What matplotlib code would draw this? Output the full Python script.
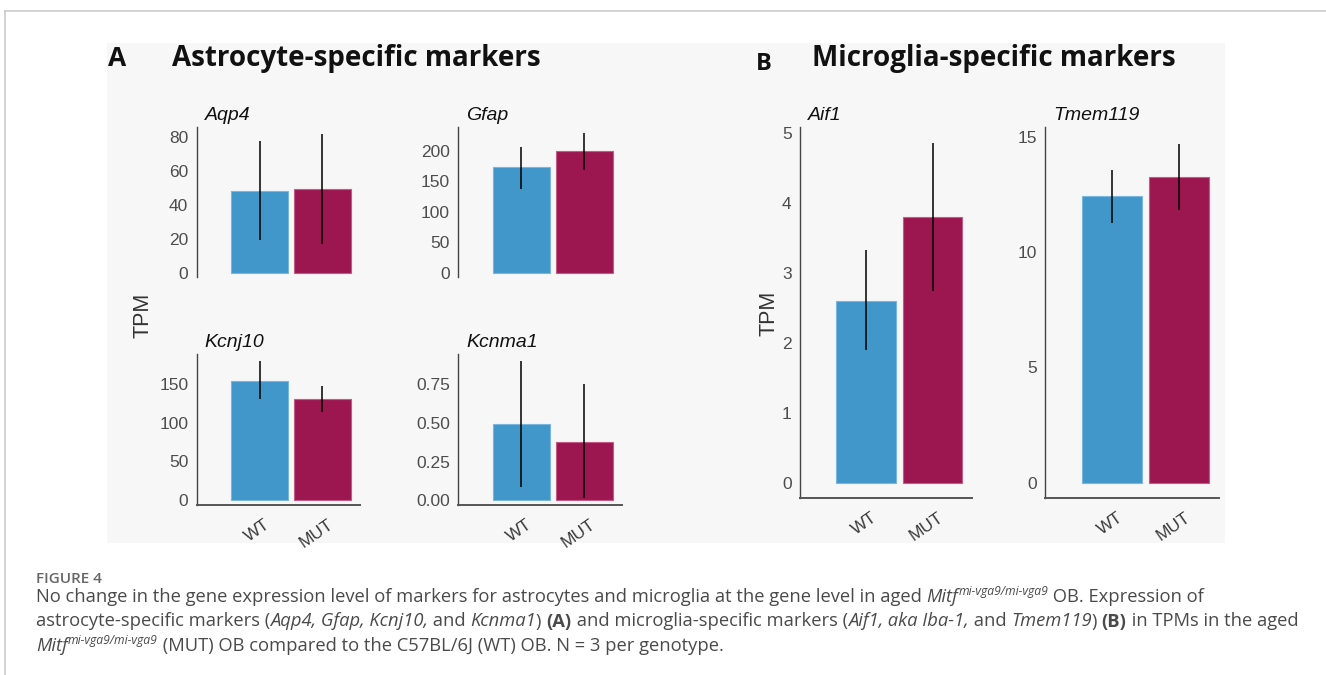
import numpy as np
import matplotlib
matplotlib.use('Agg')
import matplotlib.pyplot as plt
from matplotlib.patches import Rectangle
from matplotlib.lines import Line2D
import matplotlib.transforms as mtrans

plt.rcParams['font.family'] = ['Liberation Sans', 'DejaVu Sans']

# data (mean TPM and error-bar ends)
genes = ['Aqp4', 'Gfap', 'Kcnj10', 'Kcnma1', 'Aif1', 'Tmem119']
groups = ['WT', 'MUT']
wt_mean = [48.2, 172.8, 154.7, 0.493, 2.60, 12.44]
mut_mean = [49.2, 198.4, 131.4, 0.378, 3.80, 13.27]
wt_lo = [19.0, 137.0, 131.0, 0.086, 1.89, 11.27]
wt_hi = [77.5, 205.0, 180.0, 0.900, 3.32, 13.55]
mut_lo = [16.7, 168.4, 114.5, 0.011, 2.74, 11.82]
mut_hi = [81.6, 228.5, 148.0, 0.752, 4.85, 14.69]
yticks = [[0, 20, 40, 60, 80], [0, 50, 100, 150, 200], [0, 50, 100, 150],
          [0, 0.25, 0.5, 0.75], [0, 1, 2, 3, 4, 5], [0, 5, 10, 15]]
ytick_labels = [['0', '20', '40', '60', '80'], ['0', '50', '100', '150', '200'],
                ['0', '50', '100', '150'], ['0.00', '0.25', '0.50', '0.75'],
                ['0', '1', '2', '3', '4', '5'], ['0', '5', '10', '15']]

blue, red = '#4196ca', '#9c1750'
blue_edge, red_edge = '#7ab6e0', '#c45a86'

W, H = 1326, 675
fig = plt.figure(figsize=(W / 100, H / 100), dpi=100)
fig.patch.set_facecolor('white')


def px_axes(x0, y0, x1, y1):
    return fig.add_axes([x0 / W, 1 - y1 / H, (x1 - x0) / W, (y1 - y0) / H])


# page frame and grey figure panel
fig.add_artist(Line2D([4.7 / W, 1], [1 - 10.7 / H] * 2, transform=fig.transFigure,
                      color='#cccccc', lw=1.2))
fig.add_artist(Line2D([4.7 / W] * 2, [0, 1 - 10.7 / H], transform=fig.transFigure,
                      color='#cccccc', lw=1.2))
fig.patches.append(Rectangle((107 / W, 1 - 543 / H), (1225 - 107) / W, (543 - 43) / H,
                             transform=fig.transFigure, facecolor='#f7f7f7',
                             edgecolor='none', zorder=-10))

# axes boxes in pixels, y limits, whether the x axis is drawn
boxes = [(196.7, 126.7, 360, 276.7), (458.3, 126.7, 622, 276.7),
         (196.7, 354.3, 360, 505), (458.3, 354.3, 622, 505),
         (800, 126.7, 972.3, 497.7), (1045, 126.7, 1219.3, 497.7)]
ylims = [(-2.35, 85.9), (-6.6, 239), (-6.5, 189), (-0.032, 0.945),
         (-0.215, 5.09), (-0.65, 15.43)]
show_x = [False, False, True, True, True, True]

for i, g in enumerate(genes):
    ax = px_axes(*boxes[i])
    ax.set_zorder(1)
    ax.patch.set_visible(False)
    ax.bar([1, 2], [wt_mean[i], mut_mean[i]], width=0.9, color=[blue, red],
           edgecolor=[blue_edge, red_edge], linewidth=0.8, zorder=2)
    ax.vlines([1, 2], [wt_lo[i], mut_lo[i]], [wt_hi[i], mut_hi[i]],
              color='black', lw=1.1, zorder=3)
    ax.set_xlim(0, 2.6)
    ax.set_ylim(*ylims[i])
    ax.set_yticks(yticks[i], ytick_labels[i])
    ax.tick_params(axis='y', length=0, pad=6, labelsize=12.5, labelcolor='#4d4d4d')
    for s in ['top', 'right']:
        ax.spines[s].set_visible(False)
    ax.spines['left'].set_color('#444444')
    ax.spines['bottom'].set_color('#555555')
    ax.spines['left'].set_linewidth(1.0)
    ax.spines['bottom'].set_linewidth(1.4)
    if show_x[i]:
        ax.set_xticks([1, 2])
        ax.set_xticklabels(groups, rotation=35, ha='right', va='top',
                           rotation_mode='anchor', fontsize=12.5, color='#3a3a3a')
        ax.tick_params(axis='x', length=0, pad=8.5)
        off = mtrans.ScaledTranslation(5 / 100, 0, fig.dpi_scale_trans)
        for lab in ax.get_xticklabels():
            lab.set_transform(lab.get_transform() + off)
    else:
        ax.set_xticks([])
        ax.spines['bottom'].set_visible(False)
    tr = ax.transAxes + mtrans.ScaledTranslation(8 / 100, 7 / 100, fig.dpi_scale_trans)
    ax.text(0, 1, g, transform=tr, style='italic', fontsize=14, color='#111111',
            ha='left', va='baseline')

# y labels
fig.text(143 / W, 1 - 315 / H, 'TPM', rotation=90, fontsize=15.5, color='#333333',
         ha='center', va='center')
fig.text(769 / W, 1 - 313 / H, 'TPM', rotation=90, fontsize=15.5, color='#333333',
         ha='center', va='center')

# panel headers
hdr = dict(family=['Open Sans', 'DejaVu Sans'], weight='bold', color='#111111',
           va='baseline', ha='left')
fig.text(108 / W, 1 - 66 / H, 'A', fontsize=19, **hdr)
fig.text(172 / W, 1 - 66 / H, 'Astrocyte-specific markers', fontsize=20, **hdr)
fig.text(756 / W, 1 - 70.5 / H, 'B', fontsize=17, **hdr)
fig.text(812 / W, 1 - 66 / H, 'Microglia-specific markers', fontsize=20, **hdr)

# caption
fig.canvas.draw()
rend = fig.canvas.get_renderer()
cap_size = 13.2
cap_col = '#4a4a4a'


def style_kw(style):
    kw = dict(family=['Open Sans', 'DejaVu Sans'], fontsize=cap_size, color=cap_col)
    if style == 'i':
        kw['style'] = 'italic'
    if style == 'b':
        kw['weight'] = 'bold'
    if style == 'sup':
        kw['style'] = 'italic'
        kw['fontsize'] = cap_size * 0.66
    return kw


def text_w(s, kw):
    t = fig.text(0, 0, s + '|', **kw)
    w1 = t.get_window_extent(rend).width
    t.remove()
    t = fig.text(0, 0, '|', **kw)
    w2 = t.get_window_extent(rend).width
    t.remove()
    return w1 - w2


def draw_runs(x, y, runs):
    for s, style in runs:
        kw = style_kw(style)
        dy = 7 if style == 'sup' else 0
        fig.text(x / W, 1 - (y - dy) / H, s, va='baseline', ha='left', **kw)
        x += text_w(s, kw)


cap_x = 36
fig.text(cap_x / W, 1 - 583.3 / H, 'FIGURE 4', family=['Open Sans', 'DejaVu Sans'],
         fontsize=11, weight='semibold', color='#666666', va='baseline')
draw_runs(cap_x, 602, [
    ('No change in the gene expression level of markers for astrocytes and microglia '
     'at the gene level in aged ', 'n'), ('Mitf', 'i'), ('mi-vga9/mi-vga9', 'sup'),
    (' OB. Expression of', 'n')])
draw_runs(cap_x, 626.5, [
    ('astrocyte-specific markers (', 'n'), ('Aqp4, Gfap, Kcnj10,', 'i'), (' and ', 'n'),
    ('Kcnma1', 'i'), (') ', 'n'), ('(A)', 'b'), (' and microglia-specific markers (', 'n'),
    ('Aif1,', 'i'), (' aka Iba-1,', 'i'), (' and ', 'n'), ('Tmem119', 'i'), (') ', 'n'),
    ('(B)', 'b'), (' in TPMs in the aged', 'n')])
draw_runs(cap_x, 651, [
    ('Mitf', 'i'), ('mi-vga9/mi-vga9', 'sup'),
    (' (MUT) OB compared to the C57BL/6J (WT) OB. N = 3 per genotype.', 'n')])

fig.savefig('out.png', dpi=100)
